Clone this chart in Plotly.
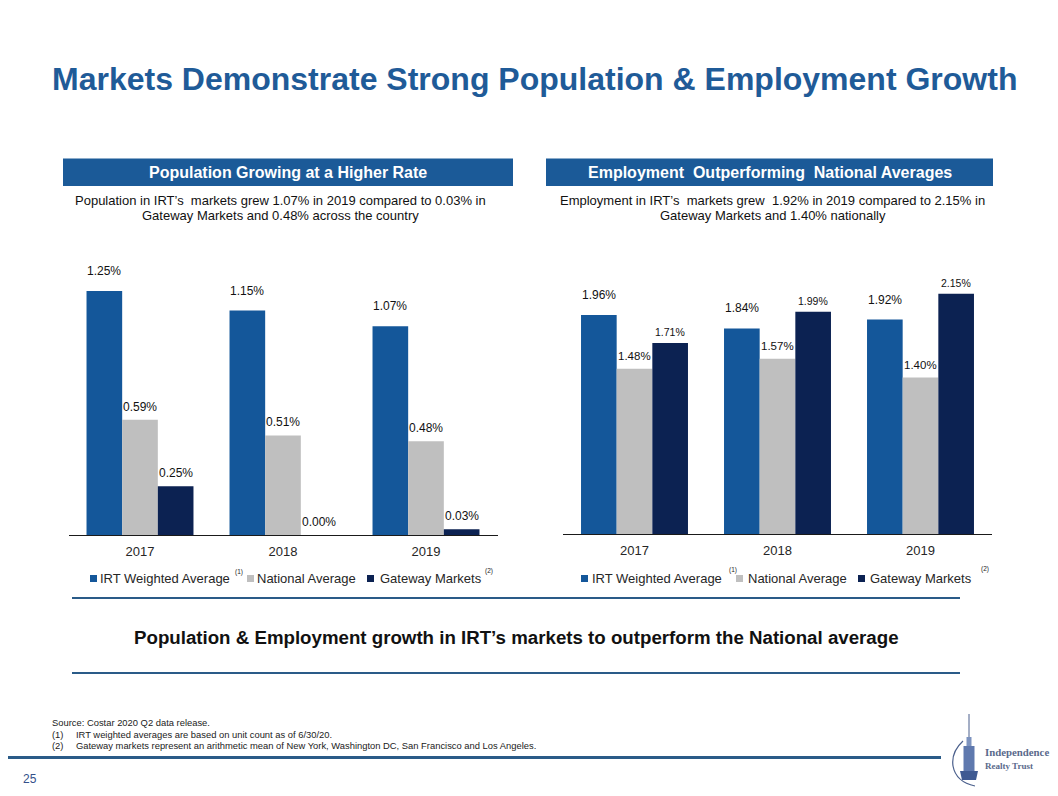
import plotly.graph_objects as go

# ---------------- data ----------------
years = ["2017", "2018", "2019"]
series_names = ["IRT Weighted Average", "National Average", "Gateway Markets"]
series_notes = ["(1)", "", "(2)"]
series_colors = ["#14579A", "#BFBFBF", "#0C2252"]

pop_irt = [1.25, 1.15, 1.07]
pop_nat = [0.59, 0.51, 0.48]
pop_gw = [0.25, 0.00, 0.03]

emp_irt = [1.96, 1.84, 1.92]
emp_nat = [1.48, 1.57, 1.40]
emp_gw = [1.71, 1.99, 2.15]

title_text = "Markets Demonstrate Strong Population & Employment Growth"
left_header = "Population Growing at a Higher Rate"
right_header = "Employment  Outperforming  National Averages"
left_sub = ["Population in IRT\u2019s  markets grew 1.07% in 2019 compared to 0.03% in",
            "Gateway Markets and 0.48% across the country"]
right_sub = ["Employment in IRT\u2019s  markets grew  1.92% in 2019 compared to 2.15% in",
             "Gateway Markets and 1.40% nationally"]
summary = "Population & Employment growth in IRT\u2019s markets to outperform the National average"
source_line = "Source: Costar 2020 Q2 data release."
notes = [("(1)", "IRT weighted averages are based on unit count as of 6/30/20."),
         ("(2)", "Gateway markets represent an arithmetic mean of New York, Washington DC, San Francisco and Los Angeles.")]
page_no = "25"

# ---------------- layout helpers ----------------
# the page body has an 8px margin: size the figure so the page fits the window exactly,
# and express positions in window pixels
MARGIN = 8
W, H = 1058 - 2 * MARGIN, 796 - 2 * MARGIN
FONT = "Liberation Sans, Arial, sans-serif"
BLUE = "#1B5A98"
LINE_BLUE = "#2A5B88"


def px(x):
    return (x - MARGIN) / W


def py(y):
    return 1 - (y - MARGIN) / H


fig = go.Figure()

charts = [
    dict(xa="x", ya="y", vals=[pop_irt, pop_nat, pop_gw], x0=68.5, x1=497.5, base=535, ppu=195.2, ymax=1.4,
         lab_size=[12, 12, 12], lab_shift=[20, 13, 13],
         leg_sq=[90, 247, 367], leg_tx=[98, 255, 378], note_x=[233, None, 483], note_y=[572, None, 571]),
    dict(xa="x2", ya="y2", vals=[emp_irt, emp_nat, emp_gw], x0=563, x1=992, base=534, ppu=111.7, ymax=2.5,
         lab_size=[12, 11.5, 10.5], lab_shift=[20, 13, 11],
         leg_sq=[581, 736, 858], leg_tx=[590, 746, 868], note_x=[727, None, 979], note_y=[570, None, 569]),
]

annotations = []
shapes = []

for ci, ch in enumerate(charts):
    for si in range(3):
        fig.add_trace(go.Bar(
            x=years, y=ch["vals"][si], name=series_names[si],
            marker=dict(color=series_colors[si], line=dict(width=0)),
            xaxis=ch["xa"], yaxis=ch["ya"], showlegend=False,
            hoverinfo="skip",
        ))
    cat_w = (ch["x1"] - ch["x0"]) / len(years)
    bar_w = cat_w * (1 - 0.252) / 3
    for si in range(3):
        for yi, yr in enumerate(years):
            v = ch["vals"][si][yi]
            annotations.append(dict(
                x=yi, y=v, xref=ch["xa"], yref=ch["ya"], text=f"{v:.2f}%",
                showarrow=False, xshift=(si - 1) * bar_w, yshift=ch["lab_shift"][si],
                font=dict(family=FONT, size=ch["lab_size"][si], color="#111111"),
                xanchor="center", yanchor="middle"))
    for si in range(3):
        sx = ch["leg_sq"][si]
        shapes.append(dict(type="rect", xref="paper", yref="paper",
                           x0=px(sx), x1=px(sx + 7), y0=py(582), y1=py(575),
                           fillcolor=series_colors[si], line=dict(width=0)))
        annotations.append(dict(x=px(ch["leg_tx"][si]), y=py(578.5), xref="paper", yref="paper",
                                text=series_names[si], showarrow=False, xanchor="left", yanchor="middle",
                                font=dict(family=FONT, size=13, color="#262626")))
        if series_notes[si]:
            annotations.append(dict(x=px(ch["note_x"][si]), y=py(ch["note_y"][si]), xref="paper", yref="paper",
                                    text=series_notes[si], showarrow=False, xanchor="left", yanchor="middle",
                                    font=dict(family=FONT, size=6.5, color="#262626")))

axis_common = dict(type="category", range=[-0.5, len(years) - 0.5], showgrid=False, zeroline=False,
                   showline=True, linecolor="#1a1a1a", linewidth=1, ticks="", ticklabelstandoff=4,
                   tickfont=dict(family=FONT, size=13, color="#262626"), fixedrange=True)
yaxis_common = dict(visible=False, showgrid=False, zeroline=False, fixedrange=True)

c0, c1 = charts
fig.update_layout(
    xaxis=dict(domain=[px(c0["x0"]), px(c0["x1"])], anchor="y", **axis_common),
    yaxis=dict(domain=[py(c0["base"]), py(c0["base"] - c0["ppu"] * c0["ymax"])], range=[0, c0["ymax"]],
               anchor="x", **yaxis_common),
    xaxis2=dict(domain=[px(c1["x0"]), px(c1["x1"])], anchor="y2", **axis_common),
    yaxis2=dict(domain=[py(c1["base"]), py(c1["base"] - c1["ppu"] * c1["ymax"])], range=[0, c1["ymax"]],
                anchor="x2", **yaxis_common),
)

# ---------------- slide decorations ----------------
annotations.append(dict(x=px(534), y=py(79), xref="paper", yref="paper", text=f"<b>{title_text}</b>",
                        showarrow=False, xanchor="center", yanchor="middle",
                        font=dict(family=FONT, size=32, color="#1F5B98")))

for (bx0, bx1, txt, sub) in [(63, 513, left_header, left_sub), (546, 993, right_header, right_sub)]:
    shapes.append(dict(type="rect", xref="paper", yref="paper", x0=px(bx0), x1=px(bx1),
                       y0=py(186), y1=py(158.5), fillcolor=BLUE, line=dict(width=0)))
    annotations.append(dict(x=px((bx0 + bx1) / 2), y=py(172.5), xref="paper", yref="paper",
                            text=f"<b>{txt}</b>", showarrow=False, xanchor="center", yanchor="middle",
                            font=dict(family=FONT, size=16, color="white")))
    cx = (bx0 + bx1) / 2 - 8 if bx0 < 300 else (bx0 + bx1) / 2 + 3
    for li, line in enumerate(sub):
        annotations.append(dict(x=px(cx), y=py(200 + 15.5 * li), xref="paper", yref="paper",
                                text=line, showarrow=False, xanchor="center", yanchor="middle",
                                font=dict(family=FONT, size=13, color="#111111")))

for yy in (598, 673):
    shapes.append(dict(type="line", xref="paper", yref="paper", x0=px(72), x1=px(960), y0=py(yy), y1=py(yy),
                       line=dict(color=LINE_BLUE, width=2)))
annotations.append(dict(x=px(516), y=py(637), xref="paper", yref="paper", text=f"<b>{summary}</b>",
                        showarrow=False, xanchor="center", yanchor="middle",
                        font=dict(family=FONT, size=18.7, color="#111111")))

annotations.append(dict(x=px(50), y=py(722), xref="paper", yref="paper", text=source_line, showarrow=False,
                        xanchor="left", yanchor="middle", font=dict(family=FONT, size=9.4, color="#222222")))
for ni, (mark, txt) in enumerate(notes):
    yy = 734 + 11.5 * ni
    annotations.append(dict(x=px(50), y=py(yy), xref="paper", yref="paper", text=mark, showarrow=False,
                            xanchor="left", yanchor="middle", font=dict(family=FONT, size=9.4, color="#222222")))
    annotations.append(dict(x=px(73.5), y=py(yy), xref="paper", yref="paper", text=txt, showarrow=False,
                            xanchor="left", yanchor="middle", font=dict(family=FONT, size=9.4, color="#222222")))

shapes.append(dict(type="line", xref="paper", yref="paper", x0=0, x1=px(941), y0=py(757.5), y1=py(757.5),
                   line=dict(color=LINE_BLUE, width=3)))
annotations.append(dict(x=px(30), y=py(779), xref="paper", yref="paper", text=page_no, showarrow=False,
                        xanchor="center", yanchor="middle", font=dict(family=FONT, size=12, color="#34508A")))

# logo (simplified)
LOGO = "#4A5F8C"
shapes.append(dict(type="path", xref="paper", yref="paper",
                   path=(f"M {px(963)} {py(741)} Q {px(951)} {py(752)} {px(953)} {py(766)} "
                         f"Q {px(956)} {py(782)} {px(975)} {py(786)}"),
                   line=dict(color=LOGO, width=1.2)))
shapes.append(dict(type="line", xref="paper", yref="paper", x0=px(969), x1=px(969), y0=py(714), y1=py(737),
                   line=dict(color=LOGO, width=1)))
shapes.append(dict(type="rect", xref="paper", yref="paper", x0=px(966.5), x1=px(971.5), y0=py(746), y1=py(737),
                   fillcolor="#7D93BF", line=dict(width=0)))
shapes.append(dict(type="rect", xref="paper", yref="paper", x0=px(963.5), x1=px(974.5), y0=py(771), y1=py(746),
                   fillcolor="#5F79AE", line=dict(width=0)))
shapes.append(dict(type="path", xref="paper", yref="paper",
                   path=(f"M {px(960)} {py(771)} L {px(978)} {py(771)} L {px(976)} {py(780)} "
                         f"L {px(962)} {py(780)} Z"),
                   fillcolor="#3F5A92", line=dict(width=0)))
annotations.append(dict(x=px(983), y=py(752), xref="paper", yref="paper", text="<b>Independence</b>",
                        showarrow=False, xanchor="left", yanchor="middle",
                        font=dict(family="Liberation Serif, DejaVu Serif, serif", size=10.8, color="#5A6A8C")))
annotations.append(dict(x=px(983), y=py(766), xref="paper", yref="paper", text="<b>Realty Trust</b>",
                        showarrow=False, xanchor="left", yanchor="middle",
                        font=dict(family="Liberation Serif, DejaVu Serif, serif", size=9, color="#5A6A8C")))

fig.update_layout(
    width=W, height=H, margin=dict(l=0, r=0, t=0, b=0),
    paper_bgcolor="white", plot_bgcolor="white",
    barmode="group", bargap=0.252, bargroupgap=0,
    showlegend=False, annotations=annotations, shapes=shapes,
    font=dict(family=FONT),
)

fig.write_html("out.html")
